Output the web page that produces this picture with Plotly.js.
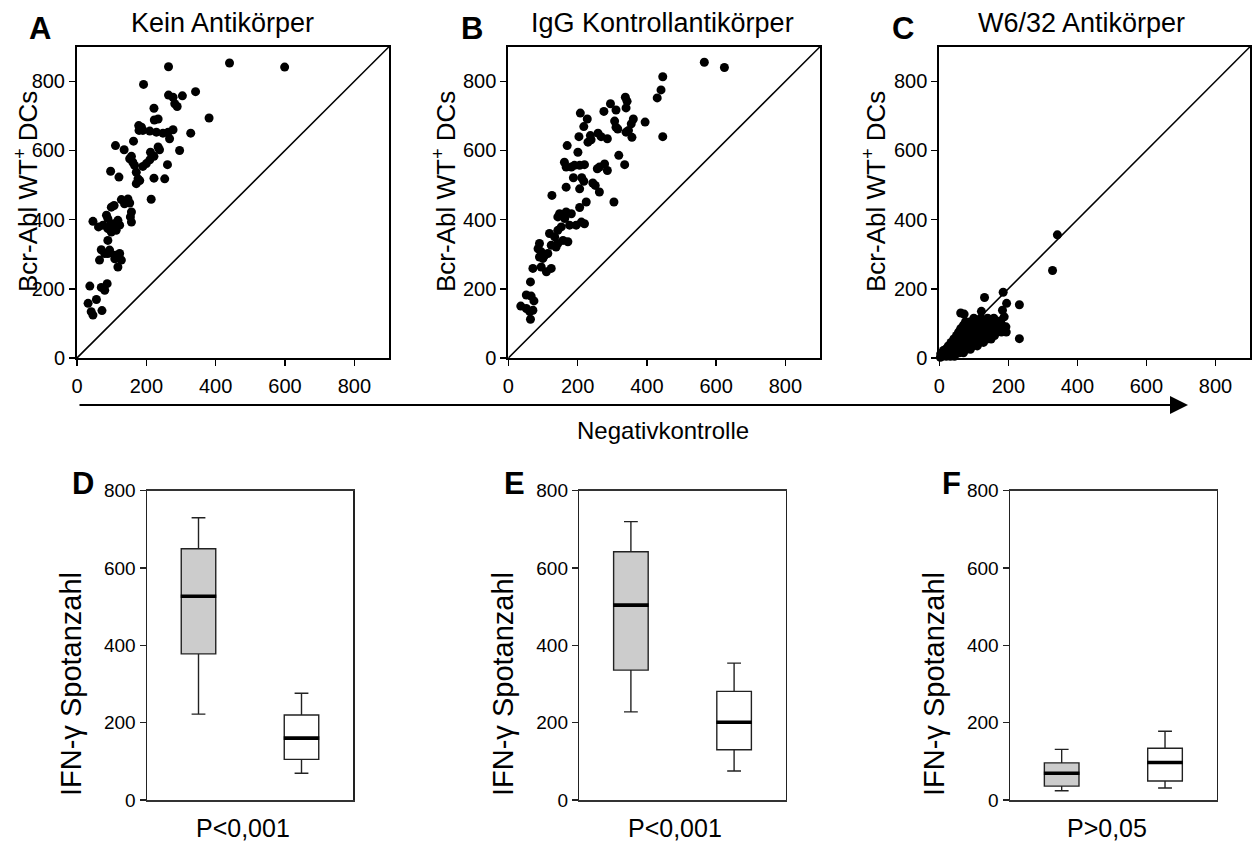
<!DOCTYPE html>
<html>
<head>
<meta charset="utf-8">
<script src="https://cdn.plot.ly/plotly-3.0.1.min.js"></script>
<style>html,body{margin:0;padding:0;background:#fff;}#chart{width:1253px;height:845px;}</style>
</head>
<body>
<div id="chart"></div>
<script>
// ---------------- DATA ----------------
const panelTitles = ["Kein Antikörper", "IgG Kontrollantikörper", "W6/32 Antikörper"];
const panelLetters = ["A", "B", "C", "D", "E", "F"];
const scatterYTitle = "Bcr-Abl WT<sup>+</sup> DCs";
const boxYTitle = "IFN-γ Spotanzahl";
const xArrowTitle = "Negativkontrolle";
const pLabels = ["P<0,001", "P<0,001", "P>0,05"];
const axisTicks = [0, 200, 400, 600, 800];
const diagonal = [0, 900];

// Panel A: Kein Antikörper
const aX = [264,440,599,192,264,277,304,342,282,289,222,381,223,234,178,186,190,179,210,229,248,263,277,267,328,163,111,136,234,238,296,212,222,210,200,190,157,152,161,166,261,97,121,171,176,171,181,222,253,214,128,147,152,137,107,99,157,154,157,46,85,89,99,109,118,123,62,75,89,99,113,94,89,70,94,89,65,80,109,123,128,118,109,37,70,87,80,32,56,41,46,72];
const aY = [842,853,841,791,760,754,758,770,735,727,722,694,688,691,672,667,658,658,656,653,650,653,660,634,650,627,614,602,610,602,600,595,583,573,562,554,583,576,566,557,559,540,523,537,518,504,513,520,518,459,458,460,448,446,441,436,422,408,393,395,413,403,388,388,398,384,379,384,374,364,369,379,340,313,312,302,283,302,297,302,283,263,287,208,204,215,196,158,169,134,124,137];

// Panel B: IgG Kontrollantikörper
const bX = [566,624,446,441,430,338,343,340,295,311,276,208,228,307,311,316,361,355,395,218,347,340,357,446,204,237,259,268,286,230,239,170,201,319,336,162,167,182,191,206,220,257,278,286,263,188,212,218,167,206,244,251,263,305,126,225,206,148,167,182,143,163,211,220,196,177,119,143,153,134,158,172,143,138,124,90,86,95,90,105,100,114,71,95,110,124,64,52,66,74,36,52,62,71,64];
const bY = [855,840,813,775,752,754,742,723,735,717,713,708,691,685,667,662,691,677,682,669,658,653,638,640,640,643,650,640,634,624,631,614,595,586,559,566,552,552,557,557,559,547,561,542,552,521,521,511,494,489,506,499,480,451,470,451,435,417,422,417,408,403,393,388,384,384,360,369,379,350,340,336,331,321,326,331,316,307,292,297,288,302,259,263,249,259,220,182,179,165,150,143,134,138,112];

// Panel C: W6/32 Antikörper
const cX = [342,328,232,232,185,131,195,62,72,122,183,188,178,193,175,170,
  8,20,32,44, 10,22,34,46,58,70, 18,30,42,54,66,78,90, 26,38,50,62,74,86,98,110,
  34,46,58,70,82,94,106,118,128, 42,54,66,78,90,102,114,126,138,150,
  50,62,74,86,98,110,122,134,146,160, 56,68,80,92,104,116,128,140,152,166,180,194,
  62,74,86,98,110,122,134,146,158,172,186, 70,82,94,106,118,130,142,154,168,182,
  76,90,104,118,132,146,160,174, 100,120,140,158, 4,12,3];
const cY = [356,253,154,56,190,175,158,130,127,135,138,119,108,90,95,82,
  5,5,5,5, 15,15,15,15,15,15, 25,25,25,25,25,25,25, 35,35,35,35,35,35,35,35,
  45,45,45,45,45,45,45,45,45, 55,55,55,55,55,55,55,55,55,55,
  65,65,65,65,65,65,65,65,65,65, 75,75,75,75,75,75,75,75,75,75,75,75,
  85,85,85,85,85,85,85,85,85,85,85, 95,95,95,95,95,95,95,95,95,95,
  105,105,105,105,105,105,105,105, 115,115,115,115, 12,22,2];

// Box plots: [grey (Bcr-Abl WT+ DCs), white (Negativkontrolle)]
const boxCategories = [0, 1];
const dLow = [222, 69],  dQ1 = [378, 105], dMed = [527, 160], dQ3 = [650, 220], dHigh = [730, 276];
const eLow = [228, 75],  eQ1 = [336, 130], eMed = [504, 201], eQ3 = [642, 281], eHigh = [720, 354];
const fLow = [24, 31],   fQ1 = [36, 49],   fMed = [69, 97],   fQ3 = [96, 134],  fHigh = [131, 178];
const boxFills = ["#cccccc", "#ffffff"];

// ---------------- LAYOUT HELPERS ----------------
const W = 1253, H = 845;
const px = v => v / W;
const py = v => 1 - v / H;
const FONT = "Liberation Sans, Arial, Helvetica, sans-serif";

const scatterDomX = [[77, 389], [508.3, 820], [939.3, 1250]];
const scatterDomY = [46.7, 358];
const boxDomX = [[147, 353], [579.3, 785.7], [1010, 1216.7]];
const boxDomY = [490.7, 800];

const traces = [];
const layout = {
  width: W, height: H,
  margin: {l: 0, r: 0, t: 0, b: 0},
  paper_bgcolor: "#fff", plot_bgcolor: "#fff",
  showlegend: false,
  hovermode: false,
  boxmode: "overlay",
  font: {family: FONT, color: "#000"},
  annotations: []
};

const scatterData = [[aX, aY], [bX, bY], [cX, cY]];
scatterData.forEach((d, i) => {
  const xa = "x" + (i === 0 ? "" : i + 1), ya = "y" + (i === 0 ? "" : i + 1);
  traces.push({type: "scatter", mode: "lines", x: diagonal, y: diagonal, xaxis: xa, yaxis: ya,
    line: {color: "#000", width: 1.6}, cliponaxis: true});
  traces.push({type: "scatter", mode: "markers", x: d[0], y: d[1], xaxis: xa, yaxis: ya,
    marker: {color: "#000", size: 9, line: {width: 0}}, cliponaxis: false});
  const axCommon = {range: [0, 900], tickvals: axisTicks, ticks: "outside", ticklen: 6, tickwidth: 1.5,
    tickcolor: "#000", showline: true, linecolor: "#000", linewidth: 2, mirror: true,
    showgrid: false, zeroline: false, tickfont: {size: 20, family: FONT, color: "#000"}, fixedrange: true};
  layout["xaxis" + (i === 0 ? "" : i + 1)] = Object.assign({}, axCommon,
    {domain: [px(scatterDomX[i][0]), px(scatterDomX[i][1])], anchor: ya, ticklabelstandoff: 3});
  layout["yaxis" + (i === 0 ? "" : i + 1)] = Object.assign({}, axCommon,
    {domain: [py(scatterDomY[1]), py(scatterDomY[0])], anchor: xa});
});

const boxData = [[dLow, dQ1, dMed, dQ3, dHigh], [eLow, eQ1, eMed, eQ3, eHigh], [fLow, fQ1, fMed, fQ3, fHigh]];
boxData.forEach((b, i) => {
  const n = i + 4;
  const xa = "x" + n, ya = "y" + n;
  boxCategories.forEach((c, k) => {
    traces.push({type: "box", x: [c], q1: [b[1][k]], median: [b[2][k]], q3: [b[3][k]],
      lowerfence: [b[0][k]], upperfence: [b[4][k]], xaxis: xa, yaxis: ya,
      width: 0.335, whiskerwidth: 0.4, fillcolor: boxFills[k], boxpoints: false,
      line: {color: "#222", width: 1.4}});
  });
  traces.push({type: "box", x: boxCategories, q1: b[2], median: b[2], q3: b[2],
    lowerfence: b[2], upperfence: b[2], xaxis: xa, yaxis: ya,
    width: 0.345, whiskerwidth: 0, fillcolor: "rgba(0,0,0,0)", boxpoints: false,
    line: {color: "#000", width: 3.6}});
  layout["xaxis" + n] = {domain: [px(boxDomX[i][0]), px(boxDomX[i][1])], anchor: ya,
    range: [-0.5, 1.5], showticklabels: false, ticks: "", showline: true, linecolor: "#333",
    linewidth: 1.5, mirror: true, showgrid: false, zeroline: false, fixedrange: true};
  layout["yaxis" + n] = {domain: [py(boxDomY[1]), py(boxDomY[0])], anchor: xa,
    range: [0, 800], tickvals: axisTicks, ticks: "outside", ticklen: 6, tickwidth: 1.3, tickcolor: "#222",
    showline: true, linecolor: "#222", linewidth: 1.5, mirror: true, showgrid: false, zeroline: false,
    tickfont: {size: 19, family: FONT, color: "#000"}, fixedrange: true};
});

function ann(text, x, y, size, opts) {
  layout.annotations.push(Object.assign({text: text, x: px(x), y: py(y), xref: "paper", yref: "paper",
    showarrow: false, xanchor: "center", yanchor: "middle", font: {size: size, family: FONT, color: "#000"}}, opts || {}));
}

// Panel letters
const letterPos = [[40, 28], [472, 28], [903, 28], [83, 483], [514, 483], [951, 483]];
panelLetters.forEach((l, i) => ann("<b>" + l + "</b>", letterPos[i][0], letterPos[i][1], 31));
// Titles
const titlePos = [[222, 23], [662, 23], [1081, 23]];
panelTitles.forEach((t, i) => ann(t, titlePos[i][0], titlePos[i][1], 27));
// Scatter y titles
[27, 445, 875].forEach(x => ann(scatterYTitle, x, 192, 26, {textangle: -90}));
// Box y titles
[71, 503, 934].forEach(x => ann(boxYTitle, x, 684, 29, {textangle: -90}));
// P labels
[[243, 828], [675, 828], [1107, 828]].forEach((p, i) => ann(pLabels[i], p[0], p[1], 25));
// X arrow and its title
layout.annotations.push({text: "", x: px(1188), y: py(405), ax: px(78), ay: py(405),
  xref: "paper", yref: "paper", axref: "paper", ayref: "paper",
  showarrow: true, arrowhead: 2, arrowsize: 1.8, arrowwidth: 2, arrowcolor: "#000"});
ann(xArrowTitle, 663, 430, 24);

Plotly.newPlot("chart", traces, layout, {displayModeBar: false, staticPlot: true});
</script>
</body>
</html>
